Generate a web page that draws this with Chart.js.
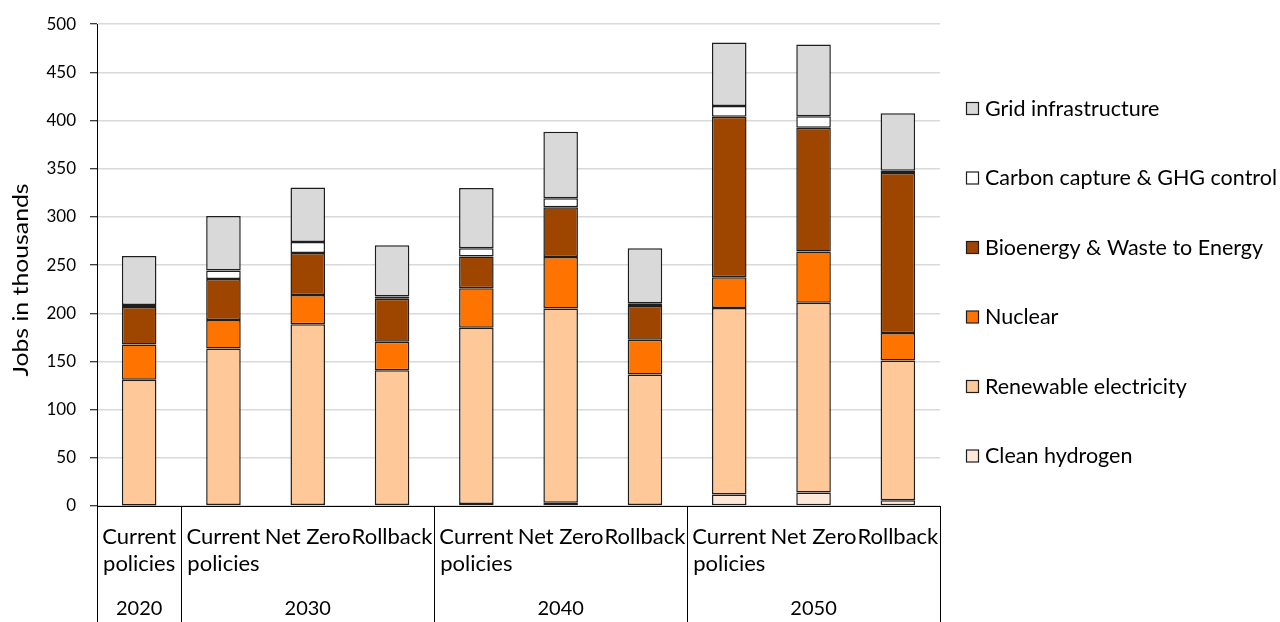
<!DOCTYPE html>
<html>
<head>
<meta charset="utf-8">
<script src="https://cdn.jsdelivr.net/npm/chart.js@4.4.1/dist/chart.umd.min.js"></script>
<style>
  html, body { margin: 0; padding: 0; background: #fff; }
  #wrap { position: relative; width: 1280px; height: 622px; }
</style>
</head>
<body>
<div id="wrap"><canvas id="jobs" width="1280" height="622"></canvas></div>
<script>
// Scenario labels for each bar, and the year each group of bars belongs to
const scenarios = [
  ['Current', 'policies'],
  ['Current', 'policies'], 'Net Zero', 'Rollback',
  ['Current', 'policies'], 'Net Zero', 'Rollback',
  ['Current', 'policies'], 'Net Zero', 'Rollback'
];
const years = ['2020', '2030', '2040', '2050'];
const yearGroupSizes = [1, 3, 3, 3];

// Jobs in thousands, by technology (bottom of the stack first)
const cleanHydrogen   = [0.5, 1, 1, 1, 2, 3.5, 1, 12, 14, 6];
const renewableElec   = [130.5, 162.5, 187.5, 140, 183, 201.5, 135.5, 193.5, 197, 145];
const nuclear         = [36.5, 29.5, 30.5, 29.5, 41, 53.5, 36, 32, 53, 28.5];
const bioenergy       = [39, 42.5, 43.5, 44.5, 33, 51.5, 35, 166.5, 128.5, 166];
const carbonCapture   = [2, 9, 11.5, 2.5, 8.5, 9.5, 3, 11, 12, 2.5];
const gridInfra       = [51, 56.5, 56.5, 53, 62.5, 69, 57, 66, 74.5, 59.5];

const yTicks = [0, 50, 100, 150, 200, 250, 300, 350, 400, 450, 500];

const FONT = 'Lato, "Open Sans", sans-serif';
const EDGE = '#1e1e1e';

function series(label, data, color) {
  return {
    label, data,
    backgroundColor: color,
    borderColor: EDGE,
    borderWidth: 1.5,
    borderSkipped: false,
    categoryPercentage: 1,
    barPercentage: 0.41
  };
}

const datasets = [
  series('Clean hydrogen', cleanHydrogen, '#fee8d8'),
  series('Renewable electricity', renewableElec, '#fec898'),
  series('Nuclear', nuclear, '#ff7400'),
  series('Bioenergy & Waste to Energy', bioenergy, '#9e4500'),
  series('Carbon capture & GHG control', carbonCapture, '#ffffff'),
  series('Grid infrastructure', gridInfra, '#d9d9d9')
];

// Year row, group separators, vertical axis title and the legend column
const extras = {
  id: 'extras',
  afterDraw(chart) {
    const { ctx, chartArea, scales: { x } } = chart;
    const n = scenarios.length;
    const edgeAt = (i) => {
      if (i <= 0) return chartArea.left;
      if (i >= n) return chartArea.right;
      return (x.getPixelForValue(i - 1) + x.getPixelForValue(i)) / 2;
    };
    ctx.save();
    // separators between year groups
    ctx.strokeStyle = '#000';
    ctx.lineWidth = 1;
    let idx = 0;
    const bounds = [0];
    yearGroupSizes.forEach(s => { idx += s; bounds.push(idx); });
    bounds.forEach(b => {
      const px = Math.round(edgeAt(b)) + 0.5;
      ctx.beginPath();
      ctx.moveTo(px, chartArea.bottom);
      ctx.lineTo(px, chart.height);
      ctx.stroke();
    });
    // year labels
    ctx.fillStyle = '#000';
    ctx.font = '20px ' + FONT;
    ctx.textAlign = 'center';
    ctx.textBaseline = 'middle';
    for (let g = 0; g < years.length; g++) {
      const cx = (edgeAt(bounds[g]) + edgeAt(bounds[g + 1])) / 2;
      ctx.fillText(years[g], cx, 609);
    }
    // vertical axis title
    ctx.save();
    ctx.font = '21px ' + FONT;
    ctx.translate(21, 280);
    ctx.rotate(-Math.PI / 2);
    ctx.scale(1.18, 1);
    ctx.fillText('Jobs in thousands', 0, 0);
    ctx.restore();
    // legend, top item is the top of the stack
    ctx.font = '21.5px ' + FONT;
    ctx.textAlign = 'left';
    const items = chart.data.datasets.slice().reverse();
    items.forEach((ds, i) => {
      const cy = 109 + i * 69.5;
      ctx.fillStyle = ds.backgroundColor;
      ctx.fillRect(966.5, cy - 6.5, 12, 12);
      ctx.strokeStyle = EDGE;
      ctx.lineWidth = 1.2;
      ctx.strokeRect(966.5, cy - 6.5, 12, 12);
      ctx.fillStyle = '#000';
      ctx.fillText(ds.label, 985, cy);
    });
    ctx.restore();
  }
};

new Chart(document.getElementById('jobs'), {
  type: 'bar',
  data: { labels: scenarios, datasets },
  options: {
    responsive: false,
    animation: false,
    layout: { padding: { top: 22, right: 340, left: 0, bottom: 0 } },
    plugins: { legend: { display: false }, tooltip: { enabled: false } },
    scales: {
      x: {
        stacked: true,
        grid: { display: false, drawTicks: false },
        border: { color: '#000', width: 1 },
        ticks: {
          color: '#000',
          font: { family: FONT, size: 22, lineHeight: 1.25 },
          padding: 17,
          maxRotation: 0,
          autoSkip: false
        },
        afterFit(scale) { scale.height = 116; }
      },
      y: {
        stacked: true,
        min: 0, max: 500,
        afterBuildTicks(scale) { scale.ticks = yTicks.map(v => ({ value: v })); },
        grid: { color: '#d9d9d9', lineWidth: 1.5, tickColor: '#000', tickLength: 7, tickWidth: 1 },
        border: { color: '#000', width: 1 },
        ticks: {
          color: '#000',
          font: { family: FONT, size: 17 },
          padding: 14
        },
        afterFit(scale) { scale.width = 97; }
      }
    }
  },
  plugins: [extras]
});
</script>
</body>
</html>
